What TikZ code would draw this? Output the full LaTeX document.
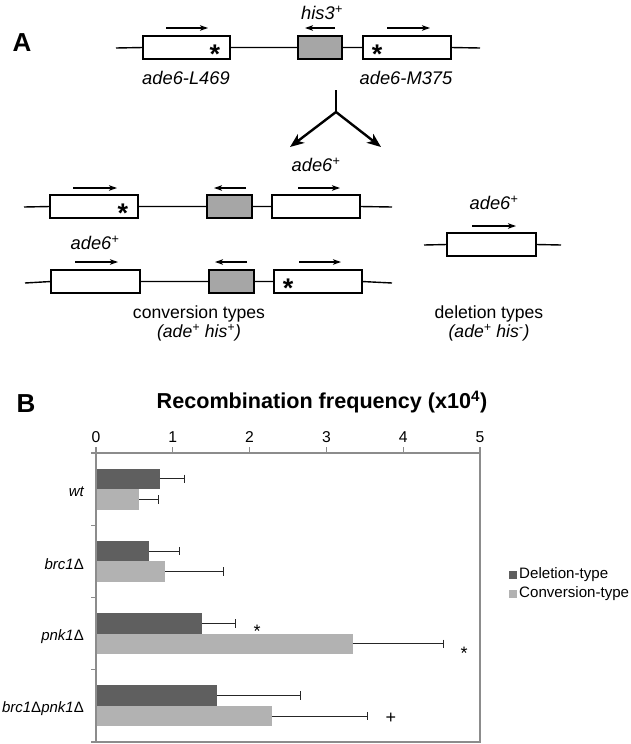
\documentclass[tikz,border=0pt]{standalone}
\usepackage{fontspec}
\setmainfont{Liberation Sans}
\usetikzlibrary{arrows.meta}
\definecolor{barDark}{HTML}{5F5F5F}
\definecolor{barLight}{HTML}{B2B2B2}
\definecolor{geneGray}{HTML}{A6A6A6}
\definecolor{axisGray}{HTML}{8C8C8C}
\newcommand{\fsz}[1]{\fontsize{#1}{#1}\selectfont}
\begin{document}
\begin{tikzpicture}[x=1pt,y=-1pt,
  genebox/.style={draw=black, line width=1.4pt, fill=white, minimum height=23pt, inner sep=0pt, outer sep=0pt},
  hisbox/.style={genebox, fill=geneGray},
  dna/.style={line width=1.4pt},
  dirarrow/.style={line width=1.3pt, -{Stealth[length=8pt,width=5.5pt,inset=2pt]}},
  forkarrow/.style={line width=2.4pt, -{Stealth[length=14pt,width=11pt,inset=4pt]}},
  forkline/.style={line width=2.4pt},
  lbl/.style={inner sep=0pt, font=\fsz{18.3}\itshape},
  plaintxt/.style={inner sep=0pt, font=\fsz{17.6}},
  starlbl/.style={inner sep=0pt, anchor=base, font=\fsz{27}\bfseries},
  panel/.style={inner sep=0pt, font=\fsz{26}\bfseries},
  ticklbl/.style={inner sep=0pt, font=\fsz{15.7}},
  catlbl/.style={inner sep=0pt, anchor=east, font=\fsz{15}\itshape},
  leglbl/.style={inner sep=0pt, anchor=west, font=\fsz{15.1}},
  axisline/.style={draw=axisGray, line width=1.2pt},
  errbar/.style={draw=black!85, line width=1pt},
  sigmark/.style={inner sep=0pt, font=\fsz{18}}
]
\useasboundingbox (0,0) rectangle (631,744);

% ---------- Panel A ----------
\node[panel] (pA) at (22,43) {A};

% row 1
\coordinate (r1s) at (116,48);
\coordinate (r1e) at (480,48);
\node[genebox, minimum width=87pt] (a1) at (186.5,47.5) {};
\node[hisbox, minimum width=44pt] (h1) at (320,47.5) {};
\node[genebox, minimum width=88pt] (b1) at (407,47.5) {};
\draw[dna] (r1s) -- (a1.west) (a1.east) -- (h1.west) (h1.east) -- (b1.west) (b1.east) -- (r1e);
\node[starlbl] (s1) at (215,63) {*};
\node[starlbl] (s2) at (377,63) {*};
\coordinate (ar1a) at (166,28); \coordinate (ar1b) at (208,28);
\coordinate (ar2a) at (335,28); \coordinate (ar2b) at (305,28);
\coordinate (ar3a) at (387,28); \coordinate (ar3b) at (430,28);
\draw[dirarrow] (ar1a) -- (ar1b);
\draw[dirarrow] (ar2a) -- (ar2b);
\draw[dirarrow] (ar3a) -- (ar3b);
\node[lbl] (his) at (322,13) {his3\textsuperscript{+}};
\node[lbl] (la) at (186,78) {ade6-L469};
\node[lbl] (lb) at (406,78) {ade6-M375};

% fork
\coordinate (f0) at (336,90);
\coordinate (f1) at (336,112);
\coordinate (fl) at (290,147);
\coordinate (fr) at (381,147);
\draw[forkline] (f0) -- (f1);
\draw[forkarrow] (f1) -- (fl);
\draw[forkarrow] (f1) -- (fr);

% row 2
\coordinate (r2s) at (24,207);
\coordinate (r2e) at (392,207);
\node[genebox, minimum width=88pt] (c1) at (94,206.5) {};
\node[hisbox, minimum width=45pt] (c2) at (229.5,206.5) {};
\node[genebox, minimum width=88pt] (c3) at (316,206.5) {};
\draw[dna] (r2s) -- (c1.west) (c1.east) -- (c2.west) (c2.east) -- (c3.west) (c3.east) -- (r2e);
\node[starlbl] (s3) at (123,222) {*};
\coordinate (ac1a) at (73,188); \coordinate (ac1b) at (117,188);
\coordinate (ac2a) at (246,188); \coordinate (ac2b) at (214,188);
\coordinate (ac3a) at (298,188); \coordinate (ac3b) at (340,188);
\draw[dirarrow] (ac1a) -- (ac1b);
\draw[dirarrow] (ac2a) -- (ac2b);
\draw[dirarrow] (ac3a) -- (ac3b);
\node[lbl] (lc) at (316,165) {ade6\textsuperscript{+}};

% row 3
\coordinate (r3s) at (25,283);
\coordinate (r3e) at (392,283);
\node[genebox, minimum width=89pt] (d1) at (95.5,281.5) {};
\node[hisbox, minimum width=45pt] (d2) at (231.5,281.5) {};
\node[genebox, minimum width=88pt] (d3) at (318,281.5) {};
\draw[dna] (r3s) -- (d1.west) (d1.east) -- (d2.west) (d2.east) -- (d3.west) (d3.east) -- (r3e);
\node[starlbl] (s4) at (288,297) {*};
\coordinate (ad1a) at (75,262); \coordinate (ad1b) at (118,262);
\coordinate (ad2a) at (247,262); \coordinate (ad2b) at (215,262);
\coordinate (ad3a) at (299,262); \coordinate (ad3b) at (341,262);
\draw[dirarrow] (ad1a) -- (ad1b);
\draw[dirarrow] (ad2a) -- (ad2b);
\draw[dirarrow] (ad3a) -- (ad3b);
\node[lbl] (ld) at (95,243) {ade6\textsuperscript{+}};

% deletion
\coordinate (r4s) at (424,245);
\coordinate (r4e) at (561,245);
\node[genebox, minimum width=89pt] (e1) at (491.5,244.5) {};
\draw[dna] (r4s) -- (e1.west) (e1.east) -- (r4e);
\coordinate (ae1a) at (472,226); \coordinate (ae1b) at (516,226);
\draw[dirarrow] (ae1a) -- (ae1b);
\node[lbl] (le) at (494,203) {ade6\textsuperscript{+}};

\node[plaintxt] (conv) at (199,314) {conversion types};
\node[plaintxt, font=\fsz{17.6}\itshape] (convg) at (199,333) {(ade\textsuperscript{+} his\textsuperscript{+})};
\node[plaintxt] (del) at (489,314) {deletion types};
\node[plaintxt, font=\fsz{17.6}\itshape] (delg) at (489,333) {(ade\textsuperscript{+} his\textsuperscript{-})};

% ---------- Panel B ----------
\node[panel] (pB) at (26,404) {B};
\node[inner sep=0pt, font=\fsz{21.6}\bfseries] (title) at (322,402) {Recombination frequency (x10\textsuperscript{4})};

\foreach \k in {0,...,5} {
  \node[ticklbl] (t\k) at (96+76.8*\k,437) {\k};
  \draw[axisline] (96+76.8*\k,447) -- (96+76.8*\k,453);
}

\foreach \d/\de/\l/\le [count=\i] in {0.83/1.15/0.56/0.82, 0.69/1.09/0.90/1.66, 1.38/1.81/3.34/4.52, 1.58/2.66/2.29/3.53} {
  \pgfmathsetmacro{\yc}{453+72.25*(\i-0.5)}
  \pgfmathsetmacro{\xd}{96+76.8*\d}
  \pgfmathsetmacro{\xde}{96+76.8*\de}
  \pgfmathsetmacro{\xl}{96+76.8*\l}
  \pgfmathsetmacro{\xle}{96+76.8*\le}
  \fill[barDark] (96,\yc-20.5) rectangle (\xd,\yc);
  \fill[barLight] (96,\yc) rectangle (\xl,\yc+20.5);
  \draw[errbar] (\xd,\yc-10.25) -- (\xde,\yc-10.25) (\xde,\yc-14.5) -- (\xde,\yc-6);
  \draw[errbar] (\xl,\yc+10.25) -- (\xle,\yc+10.25) (\xle,\yc+6) -- (\xle,\yc+14.5);
}

\draw[axisline] (96,453) rectangle (480,742);
\foreach \j in {0,...,4} {
  \draw[axisline] (91,453+72.25*\j) -- (96,453+72.25*\j);
}

\node[catlbl] (cw) at (84,492) {wt};
\node[catlbl] (cb) at (84,564.5) {brc1{\upshape Δ}};
\node[catlbl] (cp) at (84,636.5) {pnk1{\upshape Δ}};
\node[catlbl] (cbp) at (84,709) {brc1{\upshape Δ}pnk1{\upshape Δ}};

\node[sigmark] (m1) at (257,631) {*};
\node[sigmark] (m2) at (464,653) {*};
\node[sigmark] (m3) at (391,718) {+};

\fill[barDark] (509,571) rectangle (517,579);
\node[leglbl] (lg1) at (519,575) {Deletion-type};
\fill[barLight] (509,590) rectangle (517,598);
\node[leglbl] (lg2) at (519,594) {Conversion-type};
\end{tikzpicture}
\end{document}
